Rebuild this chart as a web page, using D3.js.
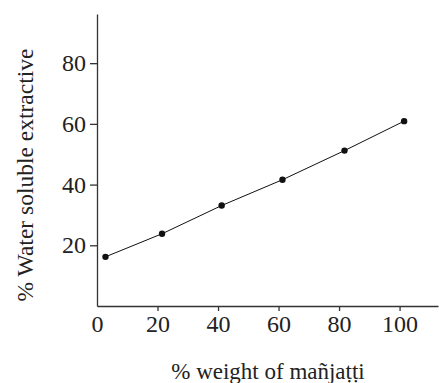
<!DOCTYPE html>
<meta charset="utf-8">
<style>
body { margin: 0; background: #fff; }
</style>
<svg width="439" height="383"></svg>
<script src="https://d3js.org/d3.v7.min.js"></script>
<script>
// values
var weightPct = [2.8, 21.5, 41.2, 61.3, 81.8, 101.5];
var extractive = [16.2, 23.8, 33.1, 41.6, 51.2, 60.9];
var xTicks = [0, 20, 40, 60, 80, 100];
var yTicks = [20, 40, 60, 80];

var serif = "'Liberation Serif'";

var svg = d3.select("svg"),
    margin = {top: 14, right: 1, bottom: 77, left: 97},
    width = +svg.attr("width") - margin.left - margin.right,
    height = +svg.attr("height") - margin.top - margin.bottom;

var x = d3.scaleLinear().domain([0, 112.7]).range([0, width]),
    y = d3.scaleLinear().domain([0, 96.2]).range([height, 0]);

var g = svg.append("g")
    .attr("transform", "translate(" + margin.left + "," + margin.top + ")");

var xAxis = g.append("g")
    .attr("transform", "translate(0," + height + ")")
    .call(d3.axisBottom(x).tickValues(xTicks).tickSize(5).tickSizeOuter(0).tickPadding(4));
// no tick mark at 0
xAxis.select(".tick line").remove();

var yAxis = g.append("g")
    .call(d3.axisLeft(y).tickValues(yTicks).tickSize(7).tickSizeOuter(0).tickPadding(4));

[xAxis, yAxis].forEach(function(a) {
  a.selectAll("path, line").style("stroke", "#333").style("stroke-width", 1.3);
  a.selectAll("text")
      .style("font-family", serif)
      .style("font-size", "24px")
      .style("fill", "#222");
});

var pts = weightPct.map(function(d, i) { return [d, extractive[i]]; });

g.append("path")
    .datum(pts)
    .attr("fill", "none")
    .attr("stroke", "#111")
    .attr("stroke-width", 1)
    .attr("d", d3.line().x(function(d) { return x(d[0]); }).y(function(d) { return y(d[1]); }));

g.selectAll(".dot")
    .data(pts)
    .enter().append("circle")
    .attr("class", "dot")
    .attr("cx", function(d) { return x(d[0]); })
    .attr("cy", function(d) { return y(d[1]); })
    .attr("r", 3.2)
    .attr("fill", "#111");

svg.append("text")
    .attr("x", 268)
    .attr("y", 379)
    .attr("text-anchor", "middle")
    .style("font-family", serif)
    .style("font-size", "23px")
    .style("fill", "#222")
    .text("% weight of mañjaṭṭi");

svg.append("text")
    .attr("transform", "translate(33,175) rotate(-90)")
    .attr("text-anchor", "middle")
    .style("font-family", serif)
    .style("font-size", "23.5px")
    .style("fill", "#222")
    .text("% Water soluble extractive");
</script>
